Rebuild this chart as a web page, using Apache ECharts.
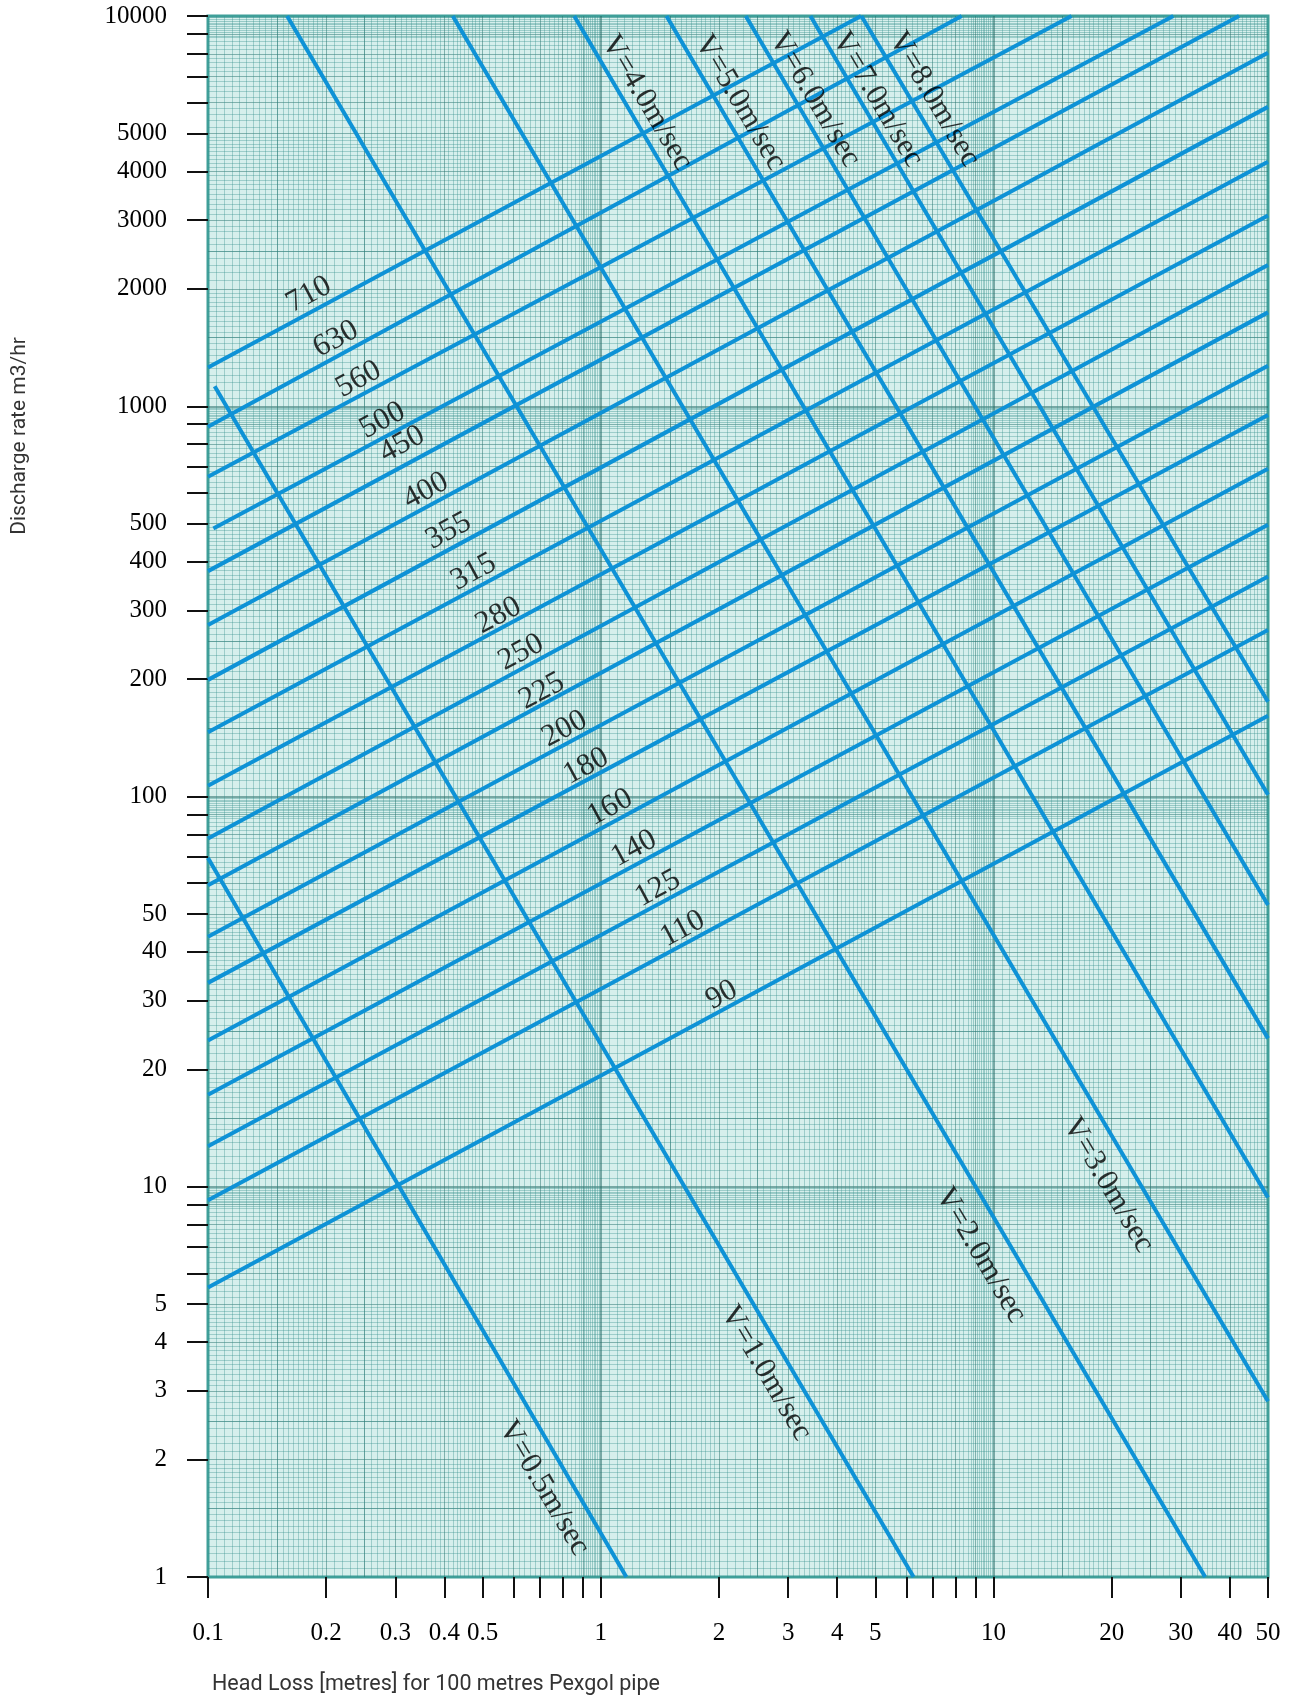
<!DOCTYPE html>
<html>
<head>
<meta charset="utf-8">
<script src="https://cdn.jsdelivr.net/npm/echarts@6/dist/echarts.min.js"></script>
<style>
html,body{margin:0;padding:0;background:#fff;}
#chart{width:1297px;height:1699px;}
</style>
</head>
<body>
<div id="chart"></div>
<script>
// ---------------- data ----------------
const pipeSizes = ['710','630','560','500','450','400','355','315','280','250','225','200','180','160','140','125','110','90'];
// [head loss m/100m, discharge m3/hr] at each end of every pipe line
const pipeStart = [[0.1,1257],[0.1,886],[0.1,660],[0.1032,486],[0.1,378],[0.1,275],[0.1,199],[0.1,146],[0.1,106.5],[0.1,78.0],[0.1,59.2],[0.1,43.7],[0.1,33.3],[0.1,23.7],[0.1,17.2],[0.1,12.7],[0.1,9.23],[0.1,5.52]];
const pipeEnd = [[4.6,10000],[8.3,10000],[15.8,10000],[28.7,10000],[42.2,10000],[50,8050],[50,5850],[50,4230],[50,3080],[50,2300],[50,1740],[50,1270],[50,950],[50,692],[50,497],[50,366],[50,267],[50,161]];

const velocityNames = ['V=0.5m/sec','V=1.0m/sec','V=2.0m/sec','V=3.0m/sec','V=4.0m/sec','V=5.0m/sec','V=6.0m/sec','V=7.0m/sec','V=8.0m/sec'];
const velocityStart = [[0.1,69.6],[0.104,1125],[0.159,10000],[0.420,10000],[0.856,10000],[1.47,10000],[2.34,10000],[3.42,10000],[4.61,10000]];
const velocityEnd = [[1.162,1],[6.26,1],[34.6,1],[50,2.82],[50,9.38],[50,24.0],[50,52.7],[50,101],[50,175]];

// label anchor points (data coordinates)
const pipeLabelAt = [[0.1806,1932],[0.2117,1486],[0.2418,1173],[0.2781,920],[0.3119,799],[0.3587,607],[0.4100,479],[0.4744,376],[0.5490,291],[0.6272,234],[0.7079,186],[0.8087,149],[0.918,119.6],[1.056,93.8],[1.215,73.6],[1.397,58.1],[1.617,45.8],[2.032,31.0]];
const velocityLabelAt = [[0.7168,1.69],[2.637,3.33],[9.28,6.68],[19.6,10.1],[1.311,5995],[2.264,5995],[3.51,6111],[5.07,6111],[7.06,6111]];

// axis ticks and labels
const xTickLabels = ['0.1','0.2','0.3','0.4','0.5','1','2','3','4','5','10','20','30','40','50'];
const xTickMarks = [0.1,0.2,0.3,0.4,0.5,0.6,0.7,0.8,0.9,1,2,3,4,5,6,7,8,9,10,20,30,40,50];
const yTickLabels = ['1','2','3','4','5','10','20','30','40','50','100','200','300','400','500','1000','2000','3000','4000','5000','10000'];
const yTickMarks = [1,2,3,4,5,6,7,8,9,10,20,30,40,50,60,70,80,90,100,200,300,400,500,600,700,800,900,1000,2000,3000,4000,5000,6000,7000,8000,9000,10000];

const xTitle = 'Head Loss [metres] for 100 metres Pexgol pipe';
const yTitle = 'Discharge rate m3/hr';

// ---------------- styling / decoration ----------------
const LINE_COLOR = '#0e92d6';
const SERIF = '"Liberation Serif", "Times New Roman", serif';
const X0 = 0.1, X1 = 50, Y0 = 1, Y1 = 10000;

// graph-paper mantissas (decoration only)
function stepList(a, b, s) { const r = []; for (let k = 1; a + k * s < b - 1e-9; k++) r.push(Math.round((a + k * s) * 1000) / 1000); return r; }
const fineMant = [].concat(stepList(1,2,0.05), stepList(2,5,0.1), stepList(5,10,0.2)).filter(m => Math.abs(m - Math.round(m)) > 1e-9);
const bandMant = stepList(8.8,10,0.1).filter(m => Math.abs(m * 5 - Math.round(m * 5)) > 1e-9);
const midMant = [1.5,2,2.5,3,4,5,6,7,8,9];
const majMant = [1];
function paper(lo, hi, mant) {
  const out = [], llo = Math.log10(lo), lhi = Math.log10(hi);
  for (let d = Math.floor(llo) - 1; d <= Math.ceil(lhi); d++) {
    mant.forEach(m => { const v = Math.log10(m) + d; if (v > llo + 1e-6 && v < lhi - 1e-6) out.push(v); });
  }
  return out;
}

function gridAxis(dim, mant, color, width) {
  const lo = dim === 'x' ? X0 : Y0, hi = dim === 'x' ? X1 : Y1;
  return {
    type: 'value', min: Math.log10(lo), max: Math.log10(hi), show: true,
    position: dim === 'x' ? 'bottom' : 'left',
    axisLine: { show: false }, axisLabel: { show: false },
    axisTick: { show: false, customValues: paper(lo, hi, mant) },
    splitLine: { show: true, lineStyle: { color: color, width: width } }
  };
}

function labelLookup(labels) {
  return function (v) {
    for (let i = 0; i < labels.length; i++) if (Math.abs(Math.log10(Number(labels[i])) - v) < 1e-6) return labels[i];
    return '';
  };
}

const xAxes = [
  { type: 'log', logBase: 10, min: X0, max: X1, show: false },
  gridAxis('x', fineMant, 'rgba(55,145,140,0.36)', 1),
  gridAxis('x', bandMant, 'rgba(55,145,140,0.40)', 1),
  gridAxis('x', midMant, 'rgba(40,115,110,0.5)', 1),
  gridAxis('x', majMant, 'rgba(35,105,100,0.7)', 1.5),
  {
    type: 'value', min: Math.log10(X0), max: Math.log10(X1), position: 'bottom',
    axisLine: { show: false }, splitLine: { show: false },
    axisTick: { show: true, inside: false, length: 21, customValues: xTickMarks.map(v => Math.log10(v)), lineStyle: { color: '#111', width: 2 } },
    axisLabel: { show: true, margin: 44, customValues: xTickLabels.map(v => Math.log10(Number(v))), formatter: labelLookup(xTickLabels), fontFamily: SERIF, fontSize: 25, color: '#000' }
  }
];
const yAxes = [
  { type: 'log', logBase: 10, min: Y0, max: Y1, show: false },
  gridAxis('y', fineMant, 'rgba(55,145,140,0.36)', 1),
  gridAxis('y', bandMant, 'rgba(55,145,140,0.40)', 1),
  gridAxis('y', midMant, 'rgba(40,115,110,0.5)', 1),
  gridAxis('y', majMant, 'rgba(35,105,100,0.7)', 1.5),
  {
    type: 'value', min: Math.log10(Y0), max: Math.log10(Y1), position: 'left',
    axisLine: { show: false }, splitLine: { show: false },
    axisTick: { show: true, inside: false, length: 21, customValues: yTickMarks.map(v => Math.log10(v)), lineStyle: { color: '#111', width: 2 } },
    axisLabel: { show: true, margin: 41, customValues: yTickLabels.map(v => Math.log10(Number(v))), formatter: labelLookup(yTickLabels), fontFamily: SERIF, fontSize: 25, color: '#000' }
  }
];

const series = [];
pipeSizes.forEach((s, i) => {
  series.push({ name: 'D' + s, type: 'line', xAxisIndex: 0, yAxisIndex: 0, data: [pipeStart[i], pipeEnd[i]],
    symbol: 'none', silent: true, z: 5, lineStyle: { color: LINE_COLOR, width: 4 } });
});
velocityNames.forEach((s, i) => {
  series.push({ name: s, type: 'line', xAxisIndex: 0, yAxisIndex: 0, data: [velocityStart[i], velocityEnd[i]],
    symbol: 'none', silent: true, z: 5, lineStyle: { color: LINE_COLOR, width: 4 } });
});
series.push({
  type: 'scatter', xAxisIndex: 0, yAxisIndex: 0, symbolSize: 0.1, silent: true, z: 10,
  itemStyle: { color: 'rgba(0,0,0,0)' },
  data: pipeSizes.map((s, i) => ({ name: s, value: pipeLabelAt[i] })),
  label: { show: true, position: 'inside', formatter: '{b}', rotate: 28.3, fontFamily: SERIF, fontSize: 31, color: '#000' }
});
series.push({
  type: 'scatter', xAxisIndex: 0, yAxisIndex: 0, symbolSize: 0.1, silent: true, z: 10,
  itemStyle: { color: 'rgba(0,0,0,0)' },
  data: velocityNames.map((s, i) => ({ name: s, value: velocityLabelAt[i] })),
  label: { show: true, position: 'inside', formatter: '{b}', rotate: -59.5, fontFamily: SERIF, fontSize: 31, color: '#000' }
});

const chart = echarts.init(document.getElementById('chart'), null, { renderer: 'canvas' });
chart.setOption({
  animation: false,
  backgroundColor: '#ffffff',
  grid: { left: 208, right: 29, top: 16, bottom: 122, show: true, backgroundColor: '#d6efec', borderColor: '#3f9f99', borderWidth: 3 },
  xAxis: xAxes,
  yAxis: yAxes,
  series: series,
  graphic: [
    { type: 'text', x: 20, y: 436, rotation: Math.PI / 2, style: { text: yTitle, font: '21px Roboto', fill: '#333', align: 'center', verticalAlign: 'middle' } },
    { type: 'text', x: 212, y: 1685, style: { text: xTitle, font: '21.5px Roboto', fill: '#333', align: 'left', verticalAlign: 'middle' } }
  ]
});
</script>
</body>
</html>
